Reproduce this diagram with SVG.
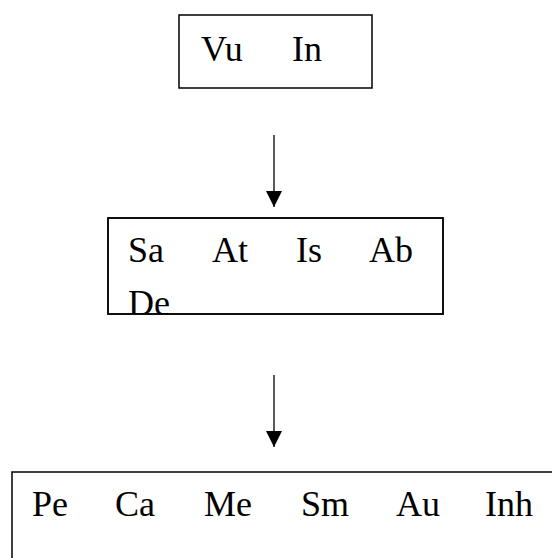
<svg xmlns="http://www.w3.org/2000/svg" width="552" height="558" viewBox="0 0 552 558">
<style>
.box{fill:#fff;stroke:#000;stroke-width:1.5}
.t{font-family:"Liberation Serif","Times New Roman",serif;font-size:36px;fill:#000}
.arr{stroke:#000;stroke-width:1.3;fill:none}
</style>
<defs>
<marker id="ah" viewBox="0 0 16 16" refX="8" refY="16" markerWidth="16" markerHeight="16" markerUnits="userSpaceOnUse" orient="auto-start-reverse">
<path d="M0,0 L16,0 L8,16 Z" fill="#000"/>
</marker>
<clipPath id="c2"><rect x="108" y="218" width="335" height="96"/></clipPath>
</defs>
<rect width="552" height="558" fill="#fff"/>
<g id="connectors">
<line class="arr" x1="274" y1="135" x2="274" y2="207"/>
<path d="M266,191 L282,191 L274,207 Z" fill="#000"/>
<line class="arr" x1="274" y1="375" x2="274" y2="447"/>
<path d="M266,431 L282,431 L274,447 Z" fill="#000"/>
</g>
<g id="node1">
<rect class="box" x="179" y="15" width="193" height="73"/>
<text class="t" y="61"><tspan x="201">Vu</tspan><tspan x="292">In</tspan></text>
</g>
<g id="node2">
<rect class="box" x="108" y="218" width="335" height="96"/>
<g clip-path="url(#c2)">
<text class="t" y="262"><tspan x="128">Sa</tspan><tspan x="212">At</tspan><tspan x="296">Is</tspan><tspan x="369">Ab</tspan></text>
<text class="t" x="128" y="315">De</text>
</g>
<rect x="108" y="218" width="335" height="96" fill="none" stroke="#000" stroke-width="1.5"/>
</g>
<g id="node3">
<rect class="box" x="12" y="472" width="560" height="100"/>
<text class="t" y="516"><tspan x="32">Pe</tspan><tspan x="115">Ca</tspan><tspan x="204">Me</tspan><tspan x="301">Sm</tspan><tspan x="396">Au</tspan><tspan x="485">Inh</tspan></text>
</g>
</svg>
